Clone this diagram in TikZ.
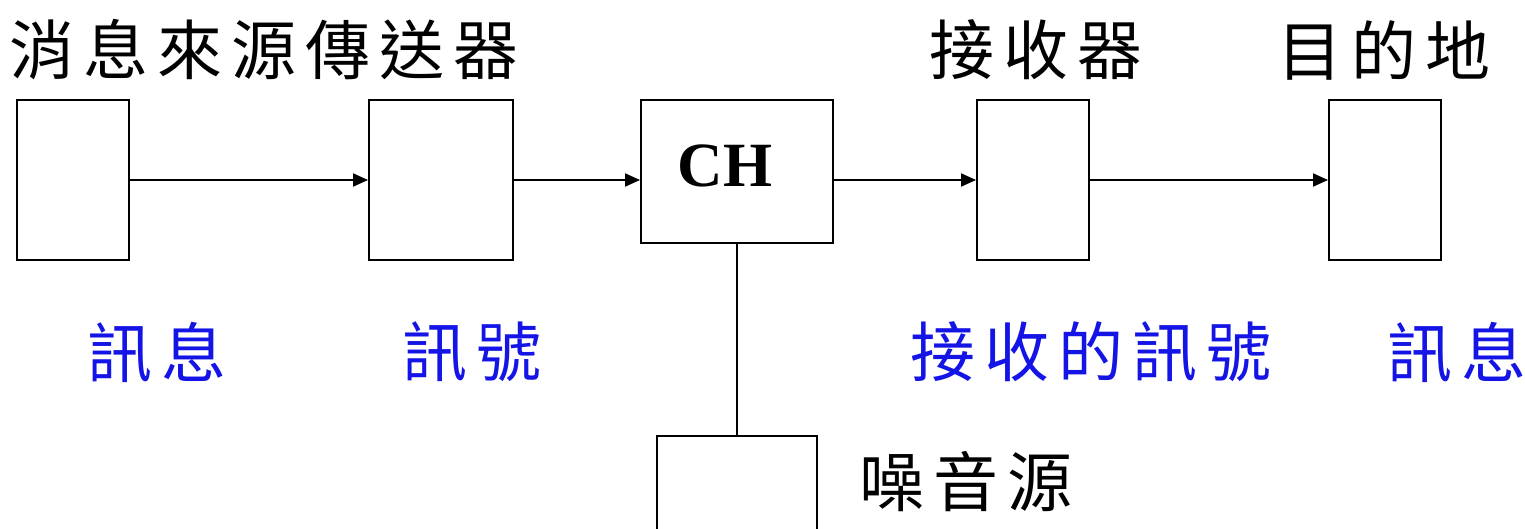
\documentclass[tikz,border=0pt]{standalone}
\usepackage{fontspec}
\setmainfont{Liberation Serif}
\newfontfamily\cjk[LetterSpace=14]{Noto Sans CJK TC}
\usetikzlibrary{arrows.meta}
\definecolor{txtblue}{RGB}{20,20,230}
\tikzset{
  blk/.style={draw=black, line width=2pt, fill=white, inner sep=0pt},
  conn/.style={line width=2pt, -{Triangle[length=15pt,width=13pt]}},
  plain/.style={line width=2pt},
  cjktext/.style={anchor=west, inner sep=0pt, font=\cjk\fontsize{65}{68}\selectfont},
  bluetext/.style={cjktext, text=txtblue},
}
\begin{document}
\begin{tikzpicture}[x=1pt,y=-1pt]
\clip (0,0) rectangle (1525,529);
\fill[white] (0,0) rectangle (1525,529);
% boxes
\node[blk, minimum width=112pt, minimum height=160pt] (b1) at (73,180) {};
\node[blk, minimum width=144pt, minimum height=160pt] (b2) at (441,180) {};
\node[blk, minimum width=192pt, minimum height=143pt] (ch) at (737,171.5) {};
\node[blk, minimum width=112pt, minimum height=160pt] (b4) at (1033,180) {};
\node[blk, minimum width=112pt, minimum height=160pt] (b5) at (1385,180) {};
\node[blk, minimum width=160pt, minimum height=140pt] (nz) at (737,506) {};
\node[inner sep=0pt, font=\bfseries\fontsize{63}{66}\selectfont] (chl) at (725,166) {CH};
% connectors
\draw[conn] (b1) -- (b2);
\draw[conn] (b2) -- (ch.west |- b2);
\draw[conn] (ch.east |- b4) -- (b4);
\draw[conn] (b4) -- (b5);
\draw[plain] (ch.south) -- (nz.north);
% labels
\node[cjktext] (t1) at (9,50) {消息來源傳送器};
\node[cjktext] (t2) at (929,50) {接收器};
\node[cjktext] (t3) at (1277,50) {目的地};
\node[bluetext] (s1) at (87,352) {訊息};
\node[bluetext] (s2) at (402,352) {訊號};
\node[bluetext] (s3) at (910,352) {接收的訊號};
\node[bluetext] (s4) at (1387,352) {訊息};
\node[cjktext] (t4) at (859,482) {噪音源};
\end{tikzpicture}
\end{document}
